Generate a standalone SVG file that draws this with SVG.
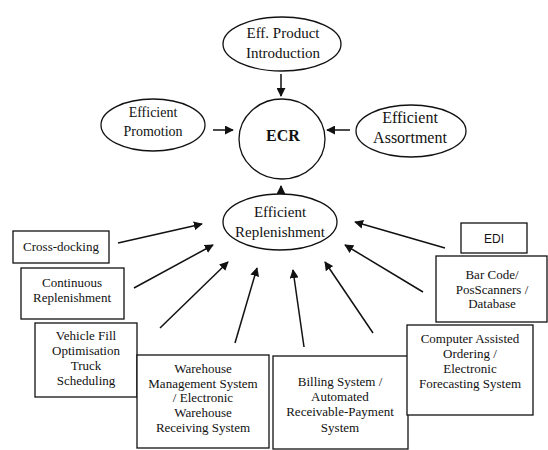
<svg xmlns="http://www.w3.org/2000/svg" width="548" height="450" viewBox="0 0 548 450">
<defs>
<marker id="ah" viewBox="0 0 10 10" refX="9" refY="5" markerWidth="9" markerHeight="9" markerUnits="userSpaceOnUse" orient="auto">
<path d="M0,0 L10,5 L0,10 z" fill="#111"/>
</marker>
</defs>
<style>
.n{fill:#fff;stroke:#111;stroke-width:1.3}
.t{font-family:"Liberation Serif","Times New Roman",serif;font-size:13px;fill:#111;text-anchor:middle}
.e{font-size:15px}
.p{font-size:14px}
.a{font-size:16px}
.b{font-size:16px;font-weight:bold}
.s{font-family:"Liberation Sans",Arial,sans-serif;font-size:12px}
.c{stroke:#111;stroke-width:1.5;fill:none;marker-end:url(#ah)}
</style>
<rect width="548" height="450" fill="#fff"/>
<g id="connectors">
<line class="c" x1="281" y1="74" x2="281" y2="96"/>
<line class="c" x1="213" y1="130" x2="233" y2="130"/>
<line class="c" x1="350" y1="130" x2="327" y2="130"/>
<line class="c" x1="281" y1="213" x2="281" y2="186"/>
<line class="c" x1="118" y1="243" x2="202" y2="224"/>
<line class="c" x1="134" y1="288" x2="213" y2="245"/>
<line class="c" x1="160" y1="328" x2="228" y2="262"/>
<line class="c" x1="235" y1="343" x2="257" y2="268"/>
<line class="c" x1="304" y1="347" x2="293" y2="270"/>
<line class="c" x1="373" y1="333" x2="325" y2="262"/>
<line class="c" x1="423" y1="292" x2="345" y2="245"/>
<line class="c" x1="445" y1="248" x2="355" y2="222"/>
</g>
<g id="eff-product">
<ellipse class="n" cx="282" cy="44" rx="59" ry="27"/>
<text class="t e" x="283" y="38">Eff. Product</text>
<text class="t e" x="283" y="58">Introduction</text>
</g>
<g id="ecr">
<ellipse class="n" cx="282" cy="139" rx="43" ry="40"/>
<text class="t b" x="283" y="141">ECR</text>
</g>
<g id="eff-promotion">
<ellipse class="n" cx="153" cy="125" rx="52" ry="26"/>
<text class="t p" x="153" y="117">Efficient</text>
<text class="t p" x="153" y="136">Promotion</text>
</g>
<g id="eff-assortment">
<ellipse class="n" cx="411" cy="131" rx="55" ry="26"/>
<text class="t a" x="410" y="123">Efficient</text>
<text class="t a" x="410" y="143">Assortment</text>
</g>
<g id="eff-replenishment">
<ellipse class="n" cx="280" cy="222" rx="57" ry="28"/>
<text class="t e" x="280" y="217">Efficient</text>
<text class="t e" x="280" y="237">Replenishment</text>
</g>
<g id="cross-docking">
<rect class="n" x="13" y="231" width="96" height="32"/>
<text class="t" x="61" y="251">Cross-docking</text>
</g>
<g id="continuous">
<rect class="n" x="21" y="268" width="103" height="51"/>
<text class="t" x="72" y="287">Continuous</text>
<text class="t" x="72" y="302">Replenishment</text>
</g>
<g id="vehicle">
<rect class="n" x="35" y="323" width="102" height="74"/>
<text class="t" x="86" y="340">Vehicle Fill</text>
<text class="t" x="86" y="355">Optimisation</text>
<text class="t" x="86" y="370">Truck</text>
<text class="t" x="86" y="385">Scheduling</text>
</g>
<g id="warehouse">
<rect class="n" x="137" y="355" width="132" height="93"/>
<text class="t" x="203" y="373">Warehouse</text>
<text class="t" x="203" y="388">Management System</text>
<text class="t" x="203" y="402">/ Electronic</text>
<text class="t" x="203" y="417">Warehouse</text>
<text class="t" x="203" y="432">Receiving System</text>
</g>
<g id="billing">
<rect class="n" x="273" y="356" width="135" height="93"/>
<text class="t" x="340" y="386">Billing System /</text>
<text class="t" x="340" y="401">Automated</text>
<text class="t" x="340" y="416">Receivable-Payment</text>
<text class="t" x="340" y="432">System</text>
</g>
<g id="computer-assisted">
<rect class="n" x="407" y="325" width="126" height="90"/>
<text class="t" x="470" y="343">Computer Assisted</text>
<text class="t" x="470" y="358">Ordering /</text>
<text class="t" x="470" y="373">Electronic</text>
<text class="t" x="470" y="388">Forecasting System</text>
</g>
<g id="bar-code">
<rect class="n" x="436" y="256" width="111" height="66"/>
<text class="t" x="492" y="279">Bar Code/</text>
<text class="t" x="492" y="294">PosScanners /</text>
<text class="t" x="492" y="308">Database</text>
</g>
<g id="edi">
<rect class="n" x="461" y="223" width="66" height="30"/>
<text class="t s" x="494" y="243">EDI</text>
</g>
</svg>
